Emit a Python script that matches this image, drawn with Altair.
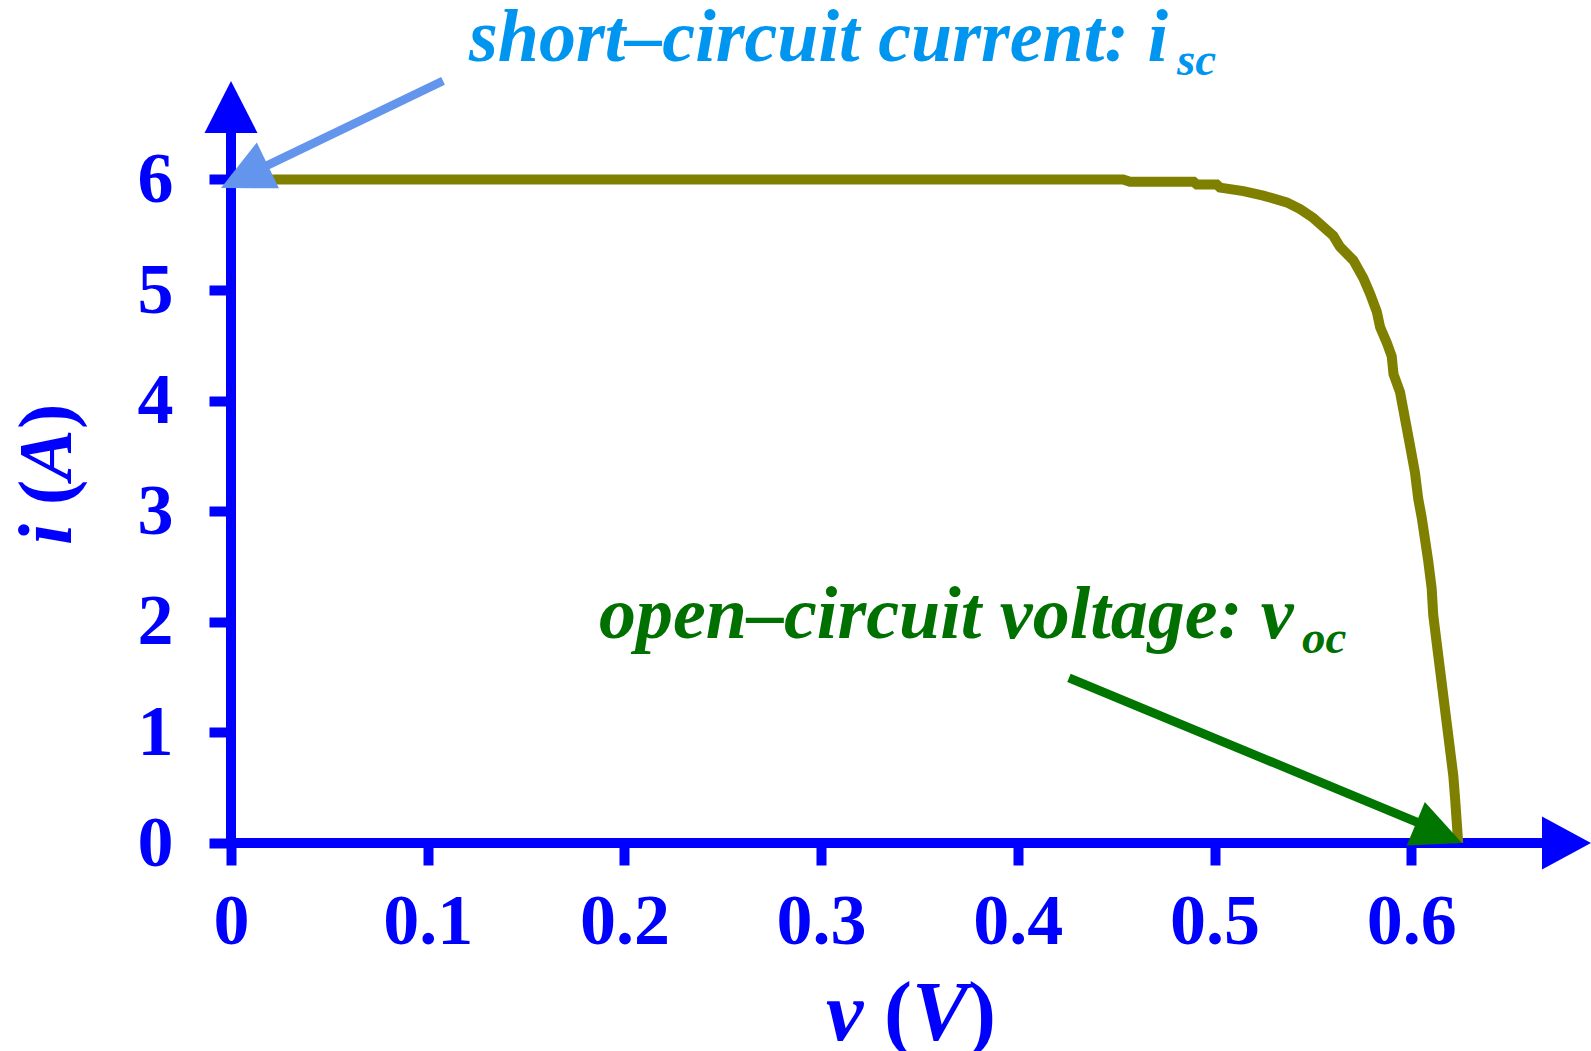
import altair as alt
import pandas as pd

# Solar-cell I-V characteristic (voltage in V, current in A)
v_curve = [0.0, 0.4418, 0.4536, 0.4570, 0.4894, 0.4910, 0.5011, 0.5028, 0.5147,
           0.5248, 0.5367, 0.5435, 0.5502, 0.5604, 0.5638, 0.5706, 0.5757, 0.5791,
           0.5825, 0.5842, 0.5876, 0.5901, 0.5910, 0.5943, 0.5960, 0.5977, 0.5994,
           0.6019, 0.6036, 0.6053, 0.6070, 0.6087, 0.6104, 0.6112, 0.6129, 0.6146,
           0.6163, 0.6180, 0.6197, 0.6214, 0.6223, 0.6231, 0.6239]
i_curve = [6.0, 6.0, 6.0, 5.98, 5.98, 5.955, 5.955, 5.926, 5.894,
           5.854, 5.793, 5.732, 5.652, 5.49, 5.39, 5.268, 5.107, 4.966,
           4.804, 4.663, 4.522, 4.40, 4.239, 4.078, 3.916, 3.755, 3.593,
           3.351, 3.108, 2.947, 2.746, 2.543, 2.302, 2.06, 1.817, 1.575,
           1.333, 1.09, 0.849, 0.607, 0.404, 0.20, 0.0]

x_ticks = [0, 0.1, 0.2, 0.3, 0.4, 0.5, 0.6]
y_ticks = [0, 1, 2, 3, 4, 5, 6]
x_max = 0.6914
y_max = 6.89

# Annotation arrows: start of the shaft, end of the shaft, arrow tip
isc_arrow = {"v": [0.1078], "i": [6.891], "v2": [0.01088], "i2": [6.062]}
isc_tip = {"v": [-0.00508], "i": [5.923]}
voc_arrow = {"v": [0.4260], "i": [1.493], "v2": [0.6096], "i2": [0.139]}
voc_tip = {"v": [0.6258], "i": [0.0]}

# Axis arrows
y_axis_line = {"v": [0.0], "i": [0.0], "v2": [0.0], "i2": [6.6]}
y_axis_tip = {"v": [0.0], "i": [y_max]}
x_axis_line = {"v": [0.0], "i": [0.0], "v2": [0.675], "i2": [0.0]}
x_axis_tip = {"v": [x_max], "i": [0.0]}

# Annotation texts
isc_text = {"v": [0.1210], "i": [7.0714], "t": ["short\u2013circuit current: i"]}
isc_sub = {"v": [0.48093], "i": [6.9448], "t": ["sc"]}
voc_text = {"v": [0.18709], "i": [1.8544], "t": ["open\u2013circuit voltage: v"]}
voc_sub = {"v": [0.54448], "i": [1.7188], "t": ["oc"]}

# Axis titles: italic symbols with upright parentheses
x_title_italic = {"v": [0.30249, 0.34621], "i": [-1.7812, -1.7812], "t": ["v", "V"]}
x_title_upright = {"v": [0.33198, 0.37468], "i": [-1.7812, -1.7812], "t": ["(", ")"]}
y_title_italic = {"v": [-0.08134, -0.08134], "i": [2.6944, 3.282], "t": ["i", "A"]}
y_title_upright = {"v": [-0.08134, -0.08134], "i": [3.056, 3.743], "t": ["(", ")"]}

BLUE = "#0000ff"
OLIVE = "#808000"
SKY = "#0096f0"
CORNFLOWER = "#6495ed"
GREEN_TEXT = "#007000"
GREEN_ARROW = "#007500"
FONT = "Liberation Serif"

x_scale = alt.Scale(domain=[0, x_max], nice=False, zero=False)
y_scale = alt.Scale(domain=[0, y_max], nice=False, zero=False)

x_axis = alt.Axis(
    values=x_ticks, format="~g", title="", domain=False, grid=False,
    tickColor=BLUE, tickWidth=10, tickSize=22, tickCap="butt",
    labelFont=FONT, labelFontWeight="bold", labelFontSize=72, labelColor=BLUE,
    labelPadding=78, labelBaseline="alphabetic", labelFlush=False, labelOverlap=False,
)
y_axis = alt.Axis(
    values=y_ticks, format="~g", title="", domain=False, grid=False,
    tickColor=BLUE, tickWidth=10, tickSize=22, tickCap="butt",
    labelFont=FONT, labelFontWeight="bold", labelFontSize=72, labelColor=BLUE,
    labelPadding=36, labelAlign="right", labelBaseline="middle", labelOverlap=False,
)


def X(field="v"):
    return alt.X(f"{field}:Q", scale=x_scale, axis=x_axis)


def Y(field="i"):
    return alt.Y(f"{field}:Q", scale=y_scale, axis=y_axis)


def rule(d, color, width):
    return alt.Chart(pd.DataFrame(d)).mark_rule(
        color=color, strokeWidth=width, strokeCap="butt"
    ).encode(x=X(), y=Y(), x2="v2:Q", y2="i2:Q")


def head(d, color, length, half, angle):
    path = f"M0,0L{half},{length}L-{half},{length}Z"
    return alt.Chart(pd.DataFrame(d)).mark_point(
        shape=path, size=4, angle=angle, filled=True, color=color,
        opacity=1, strokeWidth=0
    ).encode(x=X(), y=Y())


def label(d, color, size, style="italic", angle=0):
    return alt.Chart(pd.DataFrame(d)).mark_text(
        align="left", baseline="alphabetic", font=FONT, fontStyle=style,
        fontWeight="bold", fontSize=size, color=color, angle=angle
    ).encode(x=X(), y=Y(), text="t:N")


curve = alt.Chart(pd.DataFrame({"v": v_curve, "i": i_curve})).mark_line(
    color=OLIVE, strokeWidth=10, strokeCap="butt"
).encode(x=X(), y=Y(), order=alt.Order("idx:Q")).transform_window(
    idx="row_number()"
)

chart = alt.layer(
    rule(y_axis_line, BLUE, 10),
    rule(x_axis_line, BLUE, 10),
    head(y_axis_tip, BLUE, 52, 26.5, 0),
    head(x_axis_tip, BLUE, 49, 26.5, 90),
    curve,
    rule(isc_arrow, CORNFLOWER, 8.5),
    head(isc_tip, CORNFLOWER, 52, 25.5, 244.3),
    rule(voc_arrow, GREEN_ARROW, 9),
    head(voc_tip, GREEN_ARROW, 50, 23.5, 112.6),
    label(isc_text, SKY, 74),
    label(isc_sub, SKY, 47),
    label(voc_text, GREEN_TEXT, 74),
    label(voc_sub, GREEN_TEXT, 47),
    label(x_title_italic, BLUE, 84),
    label(x_title_upright, BLUE, 84, style="normal"),
    label(y_title_italic, BLUE, 76, angle=270),
    label(y_title_upright, BLUE, 76, style="normal", angle=270),
).properties(
    width=1360,
    height=762,
    padding={"left": 231, "top": 81, "right": 0, "bottom": 208},
    autosize=alt.AutoSizeParams(type="none"),
    background="white",
).configure_view(strokeWidth=0)

chart.save("out.html", embed_options={"renderer": "svg", "actions": False})
